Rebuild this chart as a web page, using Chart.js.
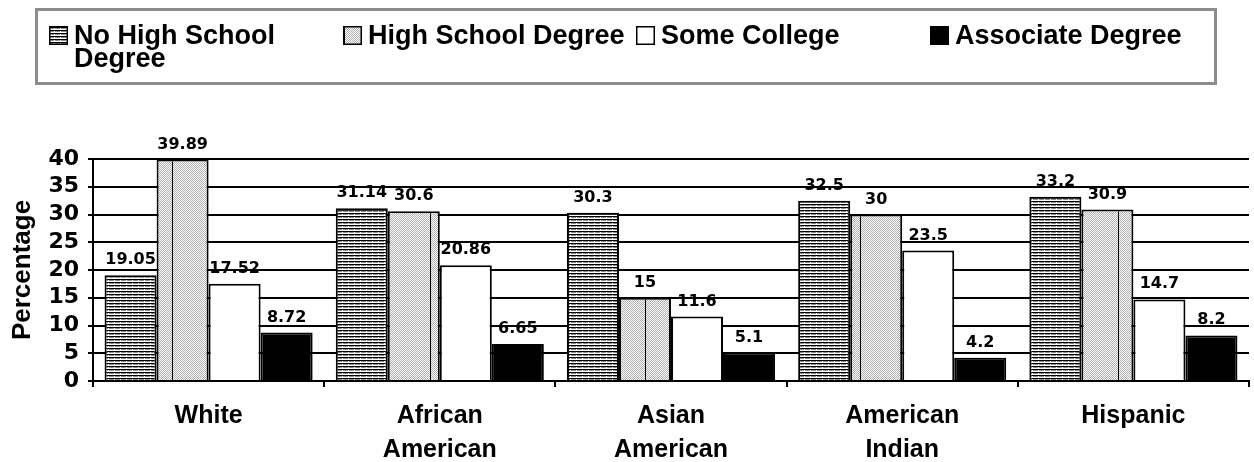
<!DOCTYPE html>
<html>
<head>
<meta charset="utf-8">
<script src="https://cdn.jsdelivr.net/npm/chart.js@4.4.0/dist/chart.umd.min.js"></script>
<style>
  html, body { margin: 0; padding: 0; background: #fff; }
</style>
</head>
<body>
<canvas id="education-chart" width="1254" height="462"></canvas>
<script>
// Chart data
var categories = ['White', ['African', 'American'], ['Asian', 'American'], ['American', 'Indian'], 'Hispanic'];
var seriesNames = ['No High School Degree', 'High School Degree', 'Some College', 'Associate Degree'];
var noHighSchool = [19.05, 31.14, 30.3, 32.5, 33.2];
var highSchool = [39.89, 30.6, 15, 30, 30.9];
var someCollege = [17.52, 20.86, 11.6, 23.5, 14.7];
var associateDegree = [8.72, 6.65, 5.1, 4.2, 8.2];
var yTicks = [0, 5, 10, 15, 20, 25, 30, 35, 40];

var canvas = document.getElementById('education-chart');
var ctx = canvas.getContext('2d');

// small tiles for the bar fills
function makePattern(w, h, draw) {
    var tile = document.createElement('canvas');
    tile.width = w;
    tile.height = h;
    draw(tile.getContext('2d'));
    return ctx.createPattern(tile, 'repeat');
}

var stripes = makePattern(6, 3, function (g) {
    g.fillStyle = '#fff';
    g.fillRect(0, 0, 6, 3);
    g.fillStyle = '#000';
    g.fillRect(0, 0, 6, 1);
    g.fillStyle = '#8a8a8a';
    g.fillRect(1, 1, 5, 1);
});

var dots = makePattern(43, 2, function (g) {
    g.fillStyle = '#fff';
    g.fillRect(0, 0, 43, 2);
    g.fillStyle = '#b0b0b0';
    for (var x = 0; x < 43; x++) {
        g.fillRect(x, x % 2, 1, 1);
    }
    g.fillStyle = '#000';
    g.fillRect(0, 0, 1, 2);
});

// Legend drawn in a box above the plot
var legendBox = {
    id: 'legendBox',
    afterDraw: function (chart) {
        var c = chart.ctx;
        c.save();
        c.lineWidth = 3;
        c.strokeStyle = '#8c8c8c';
        c.strokeRect(36.5, 9.5, 1179, 74);
        c.font = 'bold 27px "Liberation Sans", Arial, sans-serif';
        c.textBaseline = 'alphabetic';
        chart.data.datasets.forEach(function (ds, i) {
            var x = Math.round(49 + i * 293.7);
            c.fillStyle = ds.backgroundColor;
            c.fillRect(x, 26, 19, 19);
            c.lineWidth = 1.5;
            c.strokeStyle = '#000';
            c.strokeRect(x + 0.75, 26.75, 17.5, 17.5);

            var words = ds.label.split(' '), lines = [], line = '';
            words.forEach(function (w) {
                var t = line ? line + ' ' + w : w;
                if (line && c.measureText(t).width > 264) {
                    lines.push(line);
                    line = w;
                } else {
                    line = t;
                }
            });
            lines.push(line);
            c.fillStyle = '#000';
            lines.forEach(function (l, j) {
                c.fillText(l, x + 25, 44 + j * 23);
            });
        });
        c.restore();
    }
};

// Values printed above each bar
var barValues = {
    id: 'barValues',
    afterDatasetsDraw: function (chart) {
        var c = chart.ctx;
        c.save();
        c.font = 'bold 16px "DejaVu Sans", sans-serif';
        c.fillStyle = '#000';
        c.textAlign = 'center';
        c.textBaseline = 'alphabetic';
        chart.data.datasets.forEach(function (ds, i) {
            chart.getDatasetMeta(i).data.forEach(function (bar, j) {
                c.fillText(String(ds.data[j]), bar.x, bar.y - 11);
            });
        });
        c.restore();
    }
};

var chartData = {
    labels: categories,
    datasets: [
        { label: seriesNames[0], data: noHighSchool, backgroundColor: stripes },
        { label: seriesNames[1], data: highSchool, backgroundColor: dots },
        { label: seriesNames[2], data: someCollege, backgroundColor: '#ffffff' },
        { label: seriesNames[3], data: associateDegree, backgroundColor: '#000000' }
    ].map(function (ds) {
        ds.borderColor = '#000';
        ds.borderWidth = 2;
        ds.categoryPercentage = 0.9;
        ds.barPercentage = 1.0;
        return ds;
    })
};

var chartOptions = {
    responsive: false,
    animation: false,
    layout: { padding: { top: 159, right: 5, bottom: 0, left: 0 } },
    plugins: {
        legend: { display: false },
        tooltip: { enabled: false }
    },
    scales: {
        x: {
            grid: { offset: true, drawOnChartArea: false, tickLength: 6, color: '#000', lineWidth: 2 },
            border: { color: '#000', width: 2 },
            ticks: {
                color: '#000',
                autoSkip: false,
                maxRotation: 0,
                padding: 12,
                font: { family: '"Liberation Sans", Arial', size: 25, weight: 'bold', lineHeight: 1.36 }
            },
            afterFit: function (scale) { scale.height = 81; }
        },
        y: {
            min: 0,
            max: 40,
            afterBuildTicks: function (scale) {
                scale.ticks = yTicks.map(function (v) { return { value: v }; });
            },
            grid: { color: '#000', lineWidth: 2, tickLength: 5 },
            border: { color: '#000', width: 2 },
            ticks: {
                color: '#000',
                autoSkip: false,
                padding: 9,
                font: { family: '"DejaVu Sans"', size: 22, weight: 'bold', lineHeight: 1 }
            },
            title: {
                display: true,
                text: 'Percentage',
                color: '#000',
                padding: { top: 7, bottom: 0 },
                font: { family: '"Liberation Sans", Arial', size: 26, weight: 'bold' }
            },
            afterFit: function (scale) { scale.width = 93; }
        }
    }
};

var educationChart = new Chart(ctx, {
    type: 'bar',
    data: chartData,
    options: chartOptions,
    plugins: [legendBox, barValues]
});
</script>
</body>
</html>
